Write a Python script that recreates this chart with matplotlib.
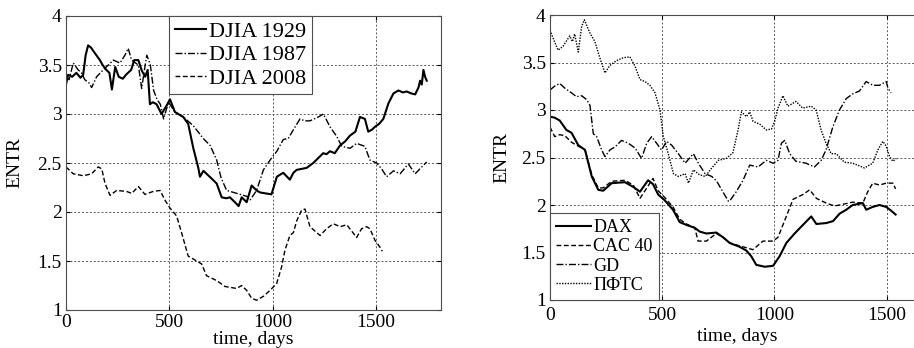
import matplotlib
matplotlib.use('Agg')
import matplotlib.pyplot as plt

plt.rcParams['font.family'] = ['Liberation Serif', 'DejaVu Serif']

# --- left panel: DJIA crises ---
d1929 = [0, 10, 30, 50, 70, 83, 95, 107, 120, 140, 164, 177, 195, 210, 222, 238, 255, 275, 290,
         315, 330, 350, 367, 383, 395, 406, 420, 438, 462, 485, 503, 527, 567, 591, 616, 640, 648,
         665, 680, 705, 729, 753, 775, 793, 817, 835, 850, 874, 898, 922, 938, 965, 994, 1020,
         1035, 1051, 1083, 1100, 1116, 1140, 1164, 1196, 1220, 1244, 1260, 1277, 1300, 1326,
         1350, 1374, 1400, 1422, 1446, 1462, 1480, 1495, 1515, 1535, 1560, 1584, 1608, 1630,
         1648, 1670, 1689, 1705, 1713, 1721, 1729, 1737, 1745]
v1929 = [3.30, 3.40, 3.38, 3.42, 3.37, 3.40, 3.60, 3.70, 3.68, 3.62, 3.55, 3.50, 3.45, 3.42, 3.25,
         3.48, 3.38, 3.36, 3.40, 3.45, 3.55, 3.55, 3.44, 3.38, 3.45, 3.10, 3.12, 3.10, 3.00, 3.08,
         3.15, 3.02, 2.97, 2.90, 2.65, 2.45, 2.36, 2.42, 2.39, 2.34, 2.29, 2.15, 2.14, 2.15, 2.10,
         2.06, 2.15, 2.10, 2.27, 2.22, 2.20, 2.19, 2.18, 2.36, 2.38, 2.40, 2.33, 2.40, 2.43, 2.44,
         2.45, 2.50, 2.55, 2.60, 2.59, 2.62, 2.60, 2.68, 2.72, 2.78, 2.82, 2.97, 2.95, 2.82, 2.84,
         2.87, 2.90, 2.95, 3.11, 3.21, 3.24, 3.22, 3.23, 3.21, 3.20, 3.27, 3.34, 3.30, 3.45, 3.38,
         3.34]

d1987 = [0, 15, 35, 59, 75, 91, 110, 124, 148, 180, 205, 229, 261, 285, 301, 317, 350, 366, 383,
         391, 408, 424, 440, 456, 472, 496, 527, 567, 616, 664, 697, 729, 750, 777, 810, 842, 874,
         890, 922, 955, 994, 1020, 1051, 1075, 1100, 1132, 1155, 1180, 1221, 1245, 1277, 1310,
         1334, 1374, 1406, 1446, 1470, 1503, 1527, 1551, 1584, 1616, 1656, 1689, 1721, 1745]
v1987 = [3.38, 3.35, 3.52, 3.45, 3.42, 3.35, 3.32, 3.27, 3.38, 3.45, 3.50, 3.55, 3.52, 3.60, 3.67,
         3.55, 3.50, 3.26, 3.50, 3.60, 3.50, 3.24, 3.15, 3.10, 2.95, 3.12, 3.02, 2.97, 2.88, 2.75,
         2.68, 2.53, 2.35, 2.22, 2.20, 2.18, 2.16, 2.12, 2.22, 2.43, 2.55, 2.62, 2.74, 2.75, 2.84,
         2.95, 2.93, 2.93, 2.97, 3.00, 2.87, 2.77, 2.67, 2.65, 2.70, 2.67, 2.53, 2.50, 2.44, 2.36,
         2.42, 2.39, 2.49, 2.39, 2.46, 2.51]

d2008 = [0, 35, 84, 124, 156, 173, 189, 213, 245, 293, 318, 350, 382, 422, 455, 479, 503, 535, 559,
         591, 632, 656, 680, 729, 769, 825, 850, 874, 898, 922, 955, 987, 1019, 1043, 1059, 1083,
         1100, 1116, 1140, 1156, 1180, 1229, 1261, 1293, 1326, 1358, 1406, 1430, 1454, 1470, 1495,
         1519, 1530]
v2008 = [2.46, 2.39, 2.37, 2.39, 2.46, 2.44, 2.29, 2.17, 2.22, 2.21, 2.19, 2.26, 2.18, 2.21, 2.22,
         2.12, 2.04, 1.96, 1.79, 1.55, 1.50, 1.47, 1.35, 1.30, 1.24, 1.22, 1.25, 1.20, 1.12, 1.10,
         1.14, 1.20, 1.27, 1.44, 1.61, 1.76, 1.79, 1.91, 2.02, 2.03, 1.85, 1.76, 1.83, 1.88, 1.85,
         1.87, 1.74, 1.83, 1.85, 1.83, 1.71, 1.64, 1.60]

# --- right panel: stock indices ---
d_dax = [0, 20, 43, 73, 96, 126, 156, 171, 186, 215, 237, 275, 334, 371, 401, 437, 459, 482, 511,
         548, 578, 608, 645, 667, 697, 741, 771, 801, 845, 875, 897, 919, 957, 994, 1023, 1053,
         1090, 1127, 1164, 1187, 1231, 1261, 1291, 1320, 1349, 1394, 1409, 1438, 1468, 1498,
         1520, 1540]
v_dax = [2.93, 2.92, 2.89, 2.79, 2.76, 2.63, 2.58, 2.44, 2.30, 2.16, 2.15, 2.23, 2.24, 2.19, 2.14,
         2.26, 2.22, 2.11, 2.05, 1.95, 1.82, 1.79, 1.76, 1.72, 1.70, 1.71, 1.66, 1.60, 1.56, 1.52,
         1.46, 1.37, 1.35, 1.36, 1.46, 1.60, 1.70, 1.79, 1.88, 1.80, 1.81, 1.83, 1.91, 1.95, 2.00,
         2.02, 1.95, 1.98, 2.00, 1.98, 1.94, 1.90]

d_cac = [0, 21, 43, 66, 96, 126, 156, 186, 215, 237, 275, 334, 371, 401, 437, 459, 482, 511, 548,
         578, 608, 645, 660, 697, 741, 771, 801, 845, 875, 904, 949, 994, 1016, 1053, 1083, 1127,
         1157, 1187, 1231, 1268, 1290, 1349, 1394, 1416, 1438, 1468, 1498, 1528, 1540]
v_cac = [2.82, 2.72, 2.74, 2.73, 2.66, 2.62, 2.58, 2.32, 2.18, 2.18, 2.25, 2.26, 2.21, 2.07, 2.20,
         2.28, 2.15, 2.08, 1.98, 1.85, 1.80, 1.76, 1.62, 1.62, 1.70, 1.66, 1.60, 1.57, 1.55, 1.53,
         1.62, 1.62, 1.66, 1.88, 2.06, 2.11, 2.16, 2.07, 2.02, 1.99, 2.00, 2.03, 2.02, 2.14, 2.23,
         2.21, 2.23, 2.23, 2.17]

d_gd = [0, 20, 43, 66, 96, 118, 141, 163, 178, 193, 208, 230, 245, 267, 289, 319, 349, 379, 408,
        431, 453, 475, 497, 520, 542, 572, 602, 624, 639, 661, 691, 721, 743, 765, 795, 800, 830,
        860, 890, 927, 964, 994, 1016, 1031, 1046, 1068, 1096, 1141, 1178, 1208, 1230, 1260,
        1290, 1320, 1349, 1379, 1409, 1438, 1468, 1498, 1506, 1520]
v_gd = [3.21, 3.25, 3.28, 3.23, 3.18, 3.14, 3.15, 3.11, 3.05, 2.75, 2.72, 2.58, 2.51, 2.58, 2.61,
        2.68, 2.65, 2.60, 2.49, 2.65, 2.72, 2.65, 2.58, 2.67, 2.63, 2.54, 2.44, 2.50, 2.54, 2.44,
        2.33, 2.30, 2.25, 2.16, 2.04, 2.04, 2.14, 2.26, 2.42, 2.40, 2.47, 2.44, 2.47, 2.65, 2.68,
        2.54, 2.46, 2.44, 2.40, 2.47, 2.58, 2.82, 3.00, 3.12, 3.17, 3.20, 3.30, 3.26, 3.26, 3.30,
        3.23, 3.18]

d_pfts = [0, 20, 36, 58, 88, 100, 110, 126, 141, 153, 178, 200, 222, 245, 267, 297, 326, 356, 379,
          401, 423, 445, 468, 490, 505, 527, 550, 572, 602, 617, 639, 665, 691, 721, 750, 786, 815,
          838, 853, 875, 890, 905, 935, 964, 987, 1001, 1016, 1038, 1060, 1096, 1126, 1164, 1186,
          1208, 1230, 1253, 1275, 1312, 1349, 1401, 1438, 1461, 1483, 1498, 1513, 1528, 1543]
v_pfts = [3.84, 3.72, 3.63, 3.67, 3.78, 3.72, 3.80, 3.61, 3.88, 3.95, 3.81, 3.72, 3.55, 3.39, 3.47,
          3.52, 3.55, 3.56, 3.46, 3.32, 3.30, 3.26, 3.18, 3.00, 2.72, 2.54, 2.33, 2.30, 2.33, 2.23,
          2.37, 2.32, 2.30, 2.39, 2.47, 2.49, 2.55, 2.79, 2.98, 2.93, 2.98, 2.88, 2.85, 2.79, 2.80,
          2.88, 3.02, 3.15, 3.04, 3.09, 3.02, 3.04, 3.00, 2.79, 2.65, 2.54, 2.54, 2.45, 2.44, 2.39,
          2.44, 2.58, 2.67, 2.62, 2.51, 2.46, 2.49]

dashdot = (0, (5, 1.5, 1, 1.5))
dashed = (0, (3.5, 1.8))
dotted = (0, (1, 1))

fig = plt.figure(figsize=(9.14, 3.48), dpi=100)
ax1 = fig.add_axes([66 / 914, 38 / 348, 375 / 914, 294 / 348])
ax2 = fig.add_axes([550 / 914, 48 / 348, 375 / 914, 285 / 348])

ax1.plot(d1929, v1929, color='black', lw=1.5, ls='-', label='DJIA 1929')
ax1.plot(d1987, v1987, color='black', lw=1.0, ls=dashdot, label='DJIA 1987')
ax1.plot(d2008, v2008, color='black', lw=1.0, ls=dashed, label='DJIA 2008')

ax2.plot(d_dax, v_dax, color='black', lw=1.5, ls='-', label='DAX')
ax2.plot(d_cac, v_cac, color='black', lw=1.0, ls=dashed, label='CAC 40')
ax2.plot(d_gd, v_gd, color='black', lw=1.0, ls=dashdot, label='GD')
ax2.plot(d_pfts, v_pfts, color='black', lw=1.0, ls=dotted, label='ПФТС')

ax1.set_xlim(0, 1814)
ax2.set_xlim(0, 1671)

for ax in (ax1, ax2):
    ax.set_ylim(1, 4)
    ax.set_xticks([0, 500, 1000, 1500])
    ax.set_yticks([1, 1.5, 2, 2.5, 3, 3.5, 4])
    ax.set_yticklabels(['1', '1.5', '2', '2.5', '3', '3.5', '4'])
    ax.grid(True, color='0.35', ls=(0, (2, 2)), lw=0.7)
    ax.tick_params(direction='in', labelsize=14, length=3, top=True, right=True)
    for s in ax.spines.values():
        s.set_color('0.3')
        s.set_linewidth(0.8)

ax1.tick_params(axis='x', pad=3)
ax1.tick_params(axis='y', pad=3)
ax2.tick_params(axis='x', pad=5)
ax2.tick_params(axis='y', pad=3)
ax1.set_xlabel('time, days', fontsize=14, labelpad=0)
ax1.set_ylabel('ENTR', fontsize=14, labelpad=10)
ax2.set_xlabel('time, days', fontsize=14, labelpad=3)
ax2.set_ylabel('ENTR', fontsize=14, labelpad=8)

leg1 = ax1.legend(loc='upper left', bbox_to_anchor=(0.275, 1.0), borderaxespad=0,
                  fontsize=16, handlelength=1.4, handletextpad=0.15, labelspacing=0.12,
                  borderpad=0.25, fancybox=False, framealpha=1, edgecolor='0.3')
leg1.get_frame().set_linewidth(0.8)

leg2 = ax2.legend(loc='lower left', borderaxespad=0, fontsize=13,
                  handlelength=1.9, handletextpad=0.15, labelspacing=0.12,
                  borderpad=0.35, fancybox=False, framealpha=1, edgecolor='0.3')
leg2.get_frame().set_linewidth(0.8)

plt.savefig('out.png', dpi=100)
